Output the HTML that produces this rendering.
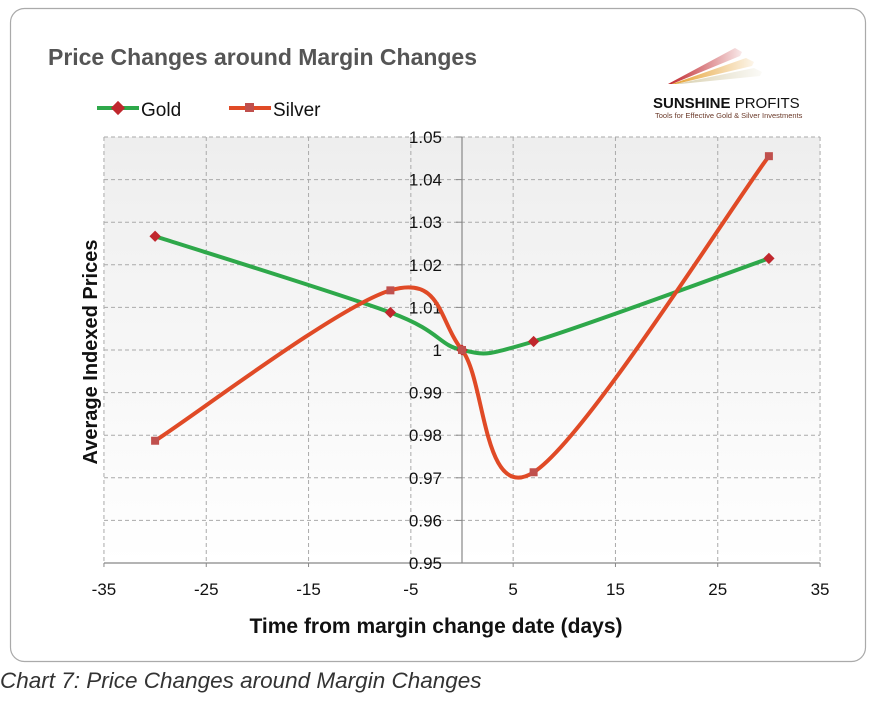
<!DOCTYPE html>
<html><head><meta charset="utf-8"><style>
body{margin:0;background:#fff;width:875px;height:700px;overflow:hidden;font-family:"Liberation Sans",sans-serif}
</style></head><body>
<svg id="s" width="875" height="700" xmlns="http://www.w3.org/2000/svg">
<defs><linearGradient id="bg" x1="0" y1="0" x2="0" y2="1"><stop offset="0" stop-color="#eeeeee"/><stop offset="1" stop-color="#ffffff"/></linearGradient>
<linearGradient id="f1" x1="0" x2="1"><stop offset="0" stop-color="#c0272d"/><stop offset="1" stop-color="#c0272d" stop-opacity="0.1"/></linearGradient>
<linearGradient id="f2" x1="0" x2="1"><stop offset="0" stop-color="#e5a030"/><stop offset="1" stop-color="#e5a030" stop-opacity="0.1"/></linearGradient>
<linearGradient id="f3" x1="0" x2="1"><stop offset="0" stop-color="#d8d0b0"/><stop offset="1" stop-color="#d8d0b0" stop-opacity="0.1"/></linearGradient></defs>
<rect x="10.5" y="8.5" width="855" height="653" rx="14" fill="#fff" stroke="#aaa" stroke-width="1.2"/>
<text x="48" y="65" font-size="23" font-weight="bold" fill="#555" textLength="429">Price Changes around Margin Changes</text>
<g id="logo">
<polygon points="668,84 735,48 742,52 740,56 672,84" fill="url(#f1)"/>
<polygon points="672,84 746,58 754,62 752,66 676,84" fill="url(#f2)"/>
<polygon points="676,84 754,68 762,72 760,76 680,84" fill="url(#f3)"/>
<text x="653" y="108" font-size="15" font-weight="bold" fill="#111">SUNSHINE <tspan font-weight="normal">PROFITS</tspan></text>
<text x="655" y="118" font-size="7.5" fill="#6b3a2a">Tools for Effective Gold &amp; Silver Investments</text>
</g>
<line x1="97" y1="108" x2="139" y2="108" stroke="#2ea84a" stroke-width="4"/>
<rect x="113" y="103" width="10" height="10" fill="#c0272d" transform="rotate(45 118 108)"/>
<text x="141" y="116" font-size="19" fill="#111">Gold</text>
<line x1="229" y1="108" x2="271" y2="108" stroke="#e04a26" stroke-width="4"/>
<rect x="245" y="103" width="9" height="9" fill="#c0504d"/>
<text x="273" y="116" font-size="19" fill="#111">Silver</text>
<rect x="104" y="137" width="716" height="426" fill="url(#bg)"/>
<g id="grid" stroke="#aaa" stroke-dasharray="4,3" stroke-width="1"></g>
<line x1="104" y1="563" x2="820" y2="563" stroke="#888" stroke-width="1.2"/>
<line x1="462" y1="137" x2="462" y2="563" stroke="#888" stroke-width="1.2"/>
<g id="lab" font-size="17" fill="#111"></g>
<text x="436" y="633" font-size="21" font-weight="bold" text-anchor="middle" fill="#111">Time from margin change date (days)</text>
<text transform="translate(97,352) rotate(-90)" font-size="20" font-weight="bold" text-anchor="middle" fill="#111">Average Indexed Prices</text>
<g id="ser"></g>
<text x="0" y="688" font-size="22.5" font-style="italic" fill="#333">Chart 7: Price Changes around Margin Changes</text>
</svg>
<script>
var NS="http://www.w3.org/2000/svg";
function X(v){return 462+v*10.23}function Y(v){return 350-(v-1)*4260}
function el(t,a,p){var e=document.createElementNS(NS,t);for(var k in a)e.setAttribute(k,a[k]);document.getElementById(p).appendChild(e);return e}
for(var v=-35;v<=35;v+=10){el("line",{x1:X(v),y1:137,x2:X(v),y2:563},"grid");el("line",{x1:X(v),y1:563,x2:X(v),y2:569,stroke:"#888"},"grid").removeAttribute("stroke-dasharray");
var t=el("text",{x:X(v),y:595,"text-anchor":"middle"},"lab");t.textContent=v;}
for(var i=0;i<=10;i++){var y=0.95+i*0.01;el("line",{x1:104,y1:Y(y),x2:820,y2:Y(y)},"grid");
el("line",{x1:456,y1:Y(y),x2:462,y2:Y(y),stroke:"#888"},"lab");
var t=el("text",{x:442,y:Y(y)+6,"text-anchor":"end"},"lab");t.textContent=(i==5)?"1":y.toFixed(2);}
function path(pts){var P=pts.map(function(p){return[X(p[0]),Y(p[1])]});var d="M"+P[0][0]+","+P[0][1];var s=1/6;
for(var i=0;i<P.length-1;i++){var p0=P[i-1]||P[i],p1=P[i],p2=P[i+1],p3=P[i+2]||P[i+1];
d+=" C"+(p1[0]+(p2[0]-p0[0])*s)+","+(p1[1]+(p2[1]-p0[1])*s)+" "+(p2[0]-(p3[0]-p1[0])*s)+","+(p2[1]-(p3[1]-p1[1])*s)+" "+p2[0]+","+p2[1];}return d}
var g=[[-30,1.0267],[-7,1.0088],[0,1.0],[7,1.002],[30,1.0215]];
var s=[[-30,0.9787],[-7,1.014],[0,1.0],[7,0.9713],[30,1.0455]];
el("path",{d:path(g),fill:"none",stroke:"#2ea84a","stroke-width":4},"ser");
el("path",{d:path(s),fill:"none",stroke:"#e04a26","stroke-width":4},"ser");
g.forEach(function(p){el("rect",{x:X(p[0])-4,y:Y(p[1])-4,width:8,height:8,fill:"#c0272d",transform:"rotate(45 "+X(p[0])+" "+Y(p[1])+")"},"ser")});
s.forEach(function(p){el("rect",{x:X(p[0])-4,y:Y(p[1])-4,width:8,height:8,fill:"#c0504d"},"ser")});
</script>
</body></html>
